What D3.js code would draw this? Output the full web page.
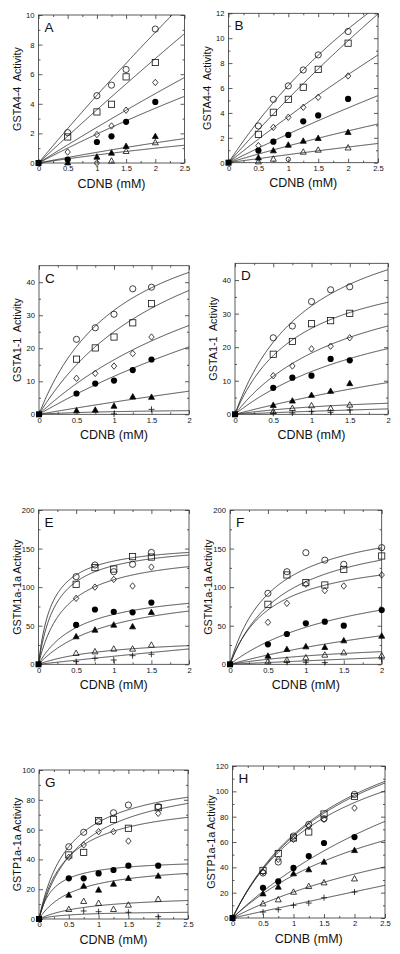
<!DOCTYPE html>
<html><head><meta charset="utf-8">
<script src="https://cdn.jsdelivr.net/npm/d3@7"></script>
<style>
body{margin:0;background:#fff}
text{font-family:"Liberation Sans",Arial,Helvetica,sans-serif;fill:#111}
</style>
</head><body>
<svg id="c" width="400" height="954"></svg>
<script>
// ---------- DATA ----------
// marker order for series: open circle, open square, open diamond, filled circle, filled triangle, open triangle, plus
const seriesMarkers = ["circle","square","diamond","dot","triFilled","tri","plus"];

const xTicks25 = [0,0.5,1,1.5,2,2.5];
const xTicks2  = [0,0.5,1,1.5,2];
const yTicksA  = [0,2,4,6,8,10];
const yTicksB  = [0,2,4,6,8,10,12];
const yTicksCD = [0,10,20,30,40];
const yTicksEF = [0,50,100,150,200];
const yTicksG  = [0,20,40,60,80,100];
const yTicksH  = [0,20,40,60,80,100,120];

const yTitles = ["GSTA4-4  Activity","GSTA4-4  Activity","GSTA1-1  Activity","GSTA1-1  Activity",
                 "GSTM1a-1a Activity","GSTM1a-1a Activity","GSTP1a-1a Activity","GSTP1a-1a Activity"];
const xTitle = "CDNB (mM)";
const panelLetters = ["A","B","C","D","E","F","G","H"];

// Panel A
const xA = [0.5, 1, 1.25, 1.5, 2];
const yA = [
  [2.05, 4.55, 5.26, 6.32, 9.05],
  [1.76, 3.45, 3.97, 5.82, 6.79],
  [0.74, 1.92, 2.5, 3.57, 5.44],
  [0.23, 1.42, 1.8, 2.78, 4.13],
  [0.02, 0.41, 0.68, 1.13, 1.8],
  [null, null, 0.14, 0.79, 1.38],
  []
];
const smallA = [[1, 0.0]];
const fitA = [[128,27],[187,51],[82,33],[34.6,16.7],[11.55,15],[6.3,10.6]];

// Panel B
const xB = [0.5, 0.75, 1, 1.25, 1.5, 2];
const yB = [
  [2.95, 5.09, 6.17, 7.45, 8.66, 10.54],
  [2.28, 4.05, 5.09, 6.06, 7.5, 9.6],
  [1.37, 2.84, 3.65, 4.45, 5.25, 6.97],
  [0.97, 1.69, 2.23, 3.32, 3.8, 5.12],
  [0.4, 0.97, 1.42, 1.74, 1.96, 2.44],
  [0.08, 0.3, null, 0.86, 1.02, 1.2],
  []
];
const smallB = [[1, 0.27]];
const fitB = [[40.4,5.52],[99.4,18.3],[81,20.9],[50.4,20.9],[23.3,16.25],[19.3,28.75]];

// Panel C
const xC = [0.5, 0.75, 1, 1.25, 1.5];
const yC = [
  [22.7, 26.2, 30.3, 38.0, 38.5],
  [16.7, 20.1, 23.4, 27.7, 33.5],
  [10.9, 12.4, 14.6, 18.4, 23.4],
  [6.3, 9.3, 10.2, 13.4, 16.6],
  [1.1, 1.3, 2.5, 5.3, 5.2],
  [],
  [null, null, 0.1, null, 1.5]
];
const fitC = [[67.7,1.15],[75,2],[72.6,3.4],[90.3,6.85],[63,16],[1.76,1.2]];

// Panel D
const xD = [0.5, 0.75, 1, 1.25, 1.5];
const yD = [
  [22.8, 26.3, 33.6, 37.1, 38.0],
  [17.9, 21.7, 27.0, 27.9, 30.1],
  [11.5, 14.4, 19.5, 20.3, 22.8],
  [7.9, 10.9, 11.5, 16.5, 16.1],
  [2.7, 4.0, 5.7, 6.9, 9.2],
  [0.8, 1.8, 2.6, 1.8, 2.8],
  [0.3, 0.4, 0.8, 0.6, 1.3]
];
const fitD = [[64.8,1.007],[47.9,0.869],[47.2,1.587],[42.3,2.32],[45,7.5],[6.6,2],[7.3,7.1]];

// Panel E
const xE = [0.5, 0.75, 1, 1.25, 1.5];
const yE = [
  [113.6, 128.7, 120, 129.6, 145],
  [103.7, 125.3, 123.5, 139.5, 139],
  [85.5, 100, 110, 101.5, 126],
  [51, 71, 68, 67.4, 80],
  [35.9, 44.5, 51, 48.8, 67.4],
  [14.3, 16.4, 19.9, 19.9, 25],
  [3.5, 7.8, 5.6, 11.2, 13]
];
const fitE = [[158.3,0.183],[158.8,0.242],[149.8,0.367],[101.4,0.567],[103.2,0.991],[36.3,1],[218.9,20]];

// Panel F
const xF = [0.5, 0.75, 1, 1.25, 1.5, 2];
const yF = [
  [92, 120, 144.7, 135, 129.6, 151.2],
  [77.8, 115.8, 105.8, 102.8, 123, 140.4],
  [54.4, 79, 103.7, 95.5, 101.5, 115.8],
  [25.9, 39.3, 53.1, 55.3, 50.1, 70.4],
  [10.8, 19.4, 22.9, 22, 30.7, 36.7],
  [3.5, 5.6, 8.6, 12.1, 15.1, 11.2],
  [null, 2.6, 2.6, 2.2, null, 6.9]
];
const fitF = [[193.9,0.565],[183.3,0.712],[147.5,0.548],[131.6,1.738],[119.6,4.45],[33.2,2.05],[94.6,20]];

// Panel G
const xG = [0.5, 0.75, 1, 1.25, 1.5, 2];
const yG = [
  [48.5, 58.2, 65.3, 71.3, 76.5, 75.4],
  [43, 44.7, 66, 66.9, 60.9, 74.7],
  [41.4, 49.7, 58.6, 58.6, 52.3, 70.9],
  [27.3, 27.3, 30.6, 32.9, 35.8, 35.8],
  [16.1, 22.1, 19.5, 23.5, 27.3, 28.9],
  [6.5, 11.9, 10.6, 6.5, 9.4, 13.3],
  [null, 5.4, 4.9, null, 4.5, 1.6]
];
const fitG = [[98.6,0.516],[98.7,0.681],[81,0.469],[40.5,0.241],[38,0.605],[16.7,0.867],[5.4,0.503]];

// Panel H
const xH = [0.5, 0.75, 1, 1.25, 1.5, 2];
const yH = [
  [35.5, 44.2, 64.7, 73.9, 78.4, 97.6],
  [37.6, 50.8, 63.2, 67.9, 82.1, 96],
  [36.3, 46.3, 62.1, 72.4, 77.9, 86.8],
  [23.9, 28.9, 39.5, 48.9, 59.2, 63.9],
  [19.2, 24.5, 35, 38.2, 44.2, 53.4],
  [11.3, 14.5, 20.5, 25, 27.9, 31],
  [4.7, 6.6, 10, 11.8, 16, 20.5]
];
const fitH = [[188.2,1.86],[187.6,1.9],[167.5,1.676],[222.8,4.8],[135.1,3.01],[113.2,4.52],[1057.8,100]];

// ---------- LAYOUT ----------
const layout = [
  {l:38.5, r:184.5, t:15,    b:163,   xmax:2.5, ymax:10,  xt:xTicks25, yt:yTicksA,  xs:xA, ys:yA, fit:fitA, small:smallA},
  {l:228.5,r:378,   t:13.3,  b:162.7, xmax:2.5, ymax:12,  xt:xTicks25, yt:yTicksB,  xs:xB, ys:yB, fit:fitB, small:smallB},
  {l:39,   r:189,   t:265.7, b:414.3, xmax:2,   ymax:45,  xt:xTicks2,  yt:yTicksCD, xs:xC, ys:yC, fit:fitC, small:[]},
  {l:235,  r:388,   t:263.3, b:414.3, xmax:2,   ymax:45,  xt:xTicks2,  yt:yTicksCD, xs:xD, ys:yD, fit:fitD, small:[]},
  {l:38.5, r:189,   t:510,   b:664.3, xmax:2,   ymax:200, xt:xTicks2,  yt:yTicksEF, xs:xE, ys:yE, fit:fitE, small:[]},
  {l:230,  r:381.7, t:510,   b:664.3, xmax:2,   ymax:200, xt:xTicks2,  yt:yTicksEF, xs:xF, ys:yF, fit:fitF, small:[]},
  {l:39,   r:188,   t:770,   b:919,   xmax:2.5, ymax:100, xt:xTicks25, yt:yTicksG,  xs:xG, ys:yG, fit:fitG, small:[]},
  {l:232.5,r:385,   t:766,   b:918,   xmax:2.5, ymax:120, xt:xTicks25, yt:yTicksH,  xs:xH, ys:yH, fit:fitH, small:[]}
];

const svg = d3.select("#c");
const fmt = d => (d === 0 ? "0" : String(d));

function drawMarker(g, type, cx, cy) {
  const sw = 0.8;
  if (type === "circle") {
    g.append("circle").attr("cx",cx).attr("cy",cy).attr("r",3.1).attr("fill","none").attr("stroke","#111").attr("stroke-width",sw);
  } else if (type === "small") {
    g.append("circle").attr("cx",cx).attr("cy",cy).attr("r",2.2).attr("fill","none").attr("stroke","#111").attr("stroke-width",sw);
  } else if (type === "dot") {
    g.append("circle").attr("cx",cx).attr("cy",cy).attr("r",3.1).attr("fill","#000");
  } else if (type === "square") {
    g.append("rect").attr("x",cx-3.1).attr("y",cy-3.1).attr("width",6.2).attr("height",6.2).attr("fill","none").attr("stroke","#111").attr("stroke-width",sw);
  } else if (type === "diamond") {
    g.append("path").attr("d",`M${cx},${cy-3.2}L${cx+2.7},${cy}L${cx},${cy+3.2}L${cx-2.7},${cy}Z`).attr("fill","none").attr("stroke","#111").attr("stroke-width",sw);
  } else if (type === "triFilled" || type === "tri") {
    g.append("path").attr("d",`M${cx},${cy-3.2}L${cx+3},${cy+2.2}L${cx-3},${cy+2.2}Z`)
      .attr("fill", type === "triFilled" ? "#000" : "none").attr("stroke","#111").attr("stroke-width",sw);
  } else if (type === "plus") {
    g.append("path").attr("d",`M${cx-3},${cy}H${cx+3}M${cx},${cy-3}V${cy+3}`).attr("fill","none").attr("stroke","#111").attr("stroke-width",sw);
  }
}

layout.forEach((p, i) => {
  const x = d3.scaleLinear().domain([0, p.xmax]).range([p.l, p.r]);
  const y = d3.scaleLinear().domain([0, p.ymax]).range([p.b, p.t]);
  const g = svg.append("g");

  const cid = "clip" + i;
  svg.append("clipPath").attr("id", cid).append("rect")
    .attr("x", p.l).attr("y", p.t).attr("width", p.r - p.l).attr("height", p.b - p.t);

  g.append("rect").attr("x", p.l).attr("y", p.t).attr("width", p.r - p.l).attr("height", p.b - p.t)
    .attr("fill", "none").attr("stroke", "#333").attr("stroke-width", 0.8);

  const xStep = p.xt[1] - p.xt[0], yStep = p.yt[1] - p.yt[0];
  const xMinor = p.xt.slice(0, -1).map(v => v + xStep / 2).filter(v => v < p.xmax);
  const yMinor = d3.range(yStep / 2, p.ymax, yStep).filter(v => !p.yt.includes(v));

  function styleAxis(sel) {
    sel.select(".domain").remove();
    sel.selectAll("line").attr("stroke", "#333").attr("stroke-width", 0.8);
    sel.selectAll("text").attr("font-size", 7.6).style("font-family", '"Liberation Sans",Arial,sans-serif').attr("fill", "#111");
  }

  g.append("g").attr("transform", `translate(0,${p.b})`)
    .call(d3.axisBottom(x).tickValues(p.xt).tickFormat(fmt).tickSizeInner(-4).tickSizeOuter(0).tickPadding(3)).call(styleAxis);
  g.append("g").attr("transform", `translate(0,${p.b})`)
    .call(d3.axisBottom(x).tickValues(xMinor).tickFormat("").tickSizeInner(-2).tickSizeOuter(0)).call(styleAxis);
  g.append("g").attr("transform", `translate(0,${p.t})`)
    .call(d3.axisTop(x).tickValues(p.xt).tickFormat("").tickSizeInner(-4).tickSizeOuter(0)).call(styleAxis);
  g.append("g").attr("transform", `translate(0,${p.t})`)
    .call(d3.axisTop(x).tickValues(xMinor).tickFormat("").tickSizeInner(-2).tickSizeOuter(0)).call(styleAxis);
  g.append("g").attr("transform", `translate(${p.l},0)`)
    .call(d3.axisLeft(y).tickValues(p.yt).tickFormat(fmt).tickSizeInner(-4).tickSizeOuter(0).tickPadding(4)).call(styleAxis);
  g.append("g").attr("transform", `translate(${p.l},0)`)
    .call(d3.axisLeft(y).tickValues(yMinor).tickFormat("").tickSizeInner(-2).tickSizeOuter(0)).call(styleAxis);
  g.append("g").attr("transform", `translate(${p.r},0)`)
    .call(d3.axisRight(y).tickValues(p.yt).tickFormat("").tickSizeInner(-4).tickSizeOuter(0)).call(styleAxis);
  g.append("g").attr("transform", `translate(${p.r},0)`)
    .call(d3.axisRight(y).tickValues(yMinor).tickFormat("").tickSizeInner(-2).tickSizeOuter(0)).call(styleAxis);

  g.append("text").attr("x", (p.l + p.r) / 2).attr("y", p.b + 24.5).attr("text-anchor", "middle")
    .attr("font-size", 12.5).text(xTitle);
  g.append("text").attr("transform", `translate(${p.l - 18},${(p.t + p.b) / 2}) rotate(-90)`)
    .attr("text-anchor", "middle").attr("font-size", 10.8).style("white-space", "pre").text(yTitles[i]);
  g.append("text").attr("x", p.l + 6).attr("y", p.t + 17).attr("font-size", 13.5).text(panelLetters[i]);

  const xs = d3.range(0, p.xmax + 1e-9, p.xmax / 200);
  const line = d3.line().x(d => x(d[0])).y(d => y(d[1]));
  const cg = g.append("g").attr("clip-path", `url(#${cid})`);
  p.fit.forEach(([V, K]) => {
    cg.append("path").attr("d", line(xs.map(v => [v, V * v / (K + v)])))
      .attr("fill", "none").attr("stroke", "#222").attr("stroke-width", 0.8);
  });

  const mg = g.append("g");
  p.ys.forEach((arr, si) => {
    arr.forEach((v, k) => {
      if (v === null || v === undefined) return;
      drawMarker(mg, seriesMarkers[si], x(p.xs[k]), y(v));
    });
  });
  p.small.forEach(([a, b]) => drawMarker(mg, "small", x(a), y(b)));
  mg.append("rect").attr("x", x(0) - 3).attr("y", y(0) - 3).attr("width", 6).attr("height", 6).attr("fill", "#000");
});
</script>
</body></html>
